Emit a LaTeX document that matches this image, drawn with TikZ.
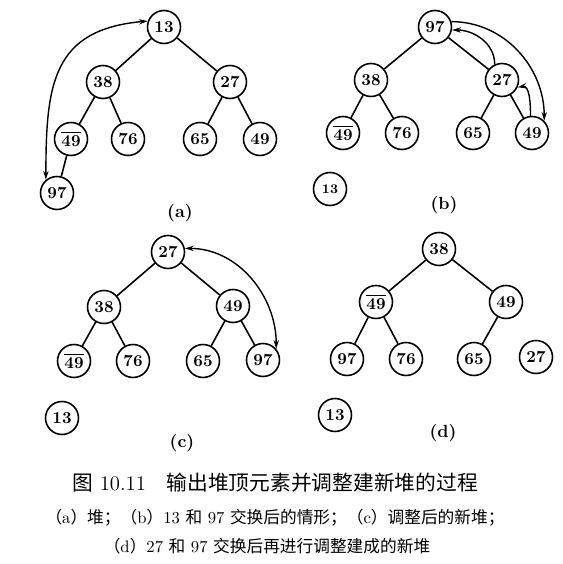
\documentclass[tikz,border=0pt]{standalone}
\usepackage{fontspec}
\newfontfamily\cjk{Noto Sans CJK SC}
\usetikzlibrary{arrows.meta}
\newcommand{\ovl}[1]{$\overline{\hbox{#1}}$}
\begin{document}
\begin{tikzpicture}[x=0.02cm,y=0.02cm,
  key/.style={draw,circle,line width=0.9pt,minimum size=0.66cm,inner sep=0pt,
    font=\fontsize{9.5}{11}\selectfont\bfseries},
  tag/.style={font=\fontsize{10}{12}\selectfont\bfseries},
  edge/.style={line width=0.9pt},
  xchg/.style={line width=0.8pt,-{Stealth[length=5pt,width=3pt]}},
  xchgboth/.style={line width=0.8pt,{Stealth[length=5pt,width=3pt]}-{Stealth[length=5pt,width=3pt]}}]
\useasboundingbox (0,0) rectangle (562,564);

% (a)
\node[key] (a13) at (164,537) {13};
\node[key] (a38) at (103,482) {38};
\node[key] (a27) at (230,482) {27};
\node[key] (a49b) at (71,425) {\ovl{49}};
\node[key] (a76) at (128,425) {76};
\node[key] (a65) at (200,425) {65};
\node[key] (a49) at (260,425) {49};
\node[key] (a97) at (57,371) {97};
\node[tag] (la) at (180,351) {(a)};
\draw[edge] (a13) -- (a38);
\draw[edge] (a13) -- (a27);
\draw[edge] (a38) -- (a49b);
\draw[edge] (a38) -- (a76);
\draw[edge] (a27) -- (a65);
\draw[edge] (a27) -- (a49);
\draw[edge] (a49b) -- (a97);
\draw[xchgboth] (a13.160) to[out=185,in=90,looseness=1.3] (a97.130);

% (b)
\node[key] (b97) at (435,537) {97};
\node[key] (b38) at (371,484) {38};
\node[key] (b27) at (502,484) {27};
\node[key] (b49b) at (343,431) {\ovl{49}};
\node[key] (b76) at (402,431) {76};
\node[key] (b65) at (473,431) {65};
\node[key] (b49) at (532,431) {49};
\node[key,font=\fontsize{7.5}{9}\selectfont\bfseries] (b13) at (330,375) {13};
\node[tag] (lb) at (444,359) {(b)};
\draw[edge] (b97) -- (b38);
\draw[edge] (b97) -- (b27);
\draw[edge] (b38) -- (b49b);
\draw[edge] (b38) -- (b76);
\draw[edge] (b27) -- (b65);
\draw[edge] (b27) -- (b49);
\draw[xchg] (b97.18) to[out=0,in=90] (b49.45);
\draw[xchg] (b27.115) to[out=90,in=0] (b97.-10);
\draw[xchg] (b49.95) to[out=90,in=10] (b27.-25);

% (c)
\node[key] (c27) at (168,312) {27};
\node[key] (c38) at (104,257) {38};
\node[key] (c49) at (233,258) {49};
\node[key] (c49b) at (74,203) {\ovl{49}};
\node[key] (c76) at (133,203) {76};
\node[key] (c65) at (203,203) {65};
\node[key] (c97) at (263,204) {97};
\node[key] (c13) at (62,146) {13};
\node[tag] (lc) at (182,121) {(c)};
\draw[edge] (c27) -- (c38);
\draw[edge] (c27) -- (c49);
\draw[edge] (c38) -- (c49b);
\draw[edge] (c38) -- (c76);
\draw[edge] (c49) -- (c65);
\draw[edge] (c49) -- (c97);
\draw[xchgboth] (c27.12) to[out=0,in=90] (c97.40);

% (d)
\node[key] (d38) at (439,315) {38};
\node[key] (d49b) at (376,262) {\ovl{49}};
\node[key] (d49) at (506,262) {49};
\node[key] (d97) at (347,205) {97};
\node[key] (d76) at (406,205) {76};
\node[key] (d65) at (474,205) {65};
\node[key] (d27) at (536,207) {27};
\node[key] (d13) at (335,149) {13};
\node[tag] (ld) at (443,131) {(d)};
\draw[edge] (d38) -- (d49b);
\draw[edge] (d38) -- (d49);
\draw[edge] (d49b) -- (d97);
\draw[edge] (d49b) -- (d76);
\draw[edge] (d49) -- (d65);

\node (cap1) at (275,81) {\fontsize{11.8}{13}\selectfont{\cjk 图} 10.11\quad{\cjk 输出堆顶元素并调整建新堆的过程}};
\node (cap2) at (275,46) {\fontsize{9.5}{11}\selectfont{\cjk （}a{\cjk ）堆；（}b{\cjk ）}13 {\cjk 和} 97 {\cjk 交换后的情形；（}c{\cjk ）调整后的新堆；}};
\node (cap3) at (267,18) {\fontsize{9.5}{11}\selectfont{\cjk （}d{\cjk ）}27 {\cjk 和} 97 {\cjk 交换后再进行调整建成的新堆}};
\end{tikzpicture}
\end{document}
